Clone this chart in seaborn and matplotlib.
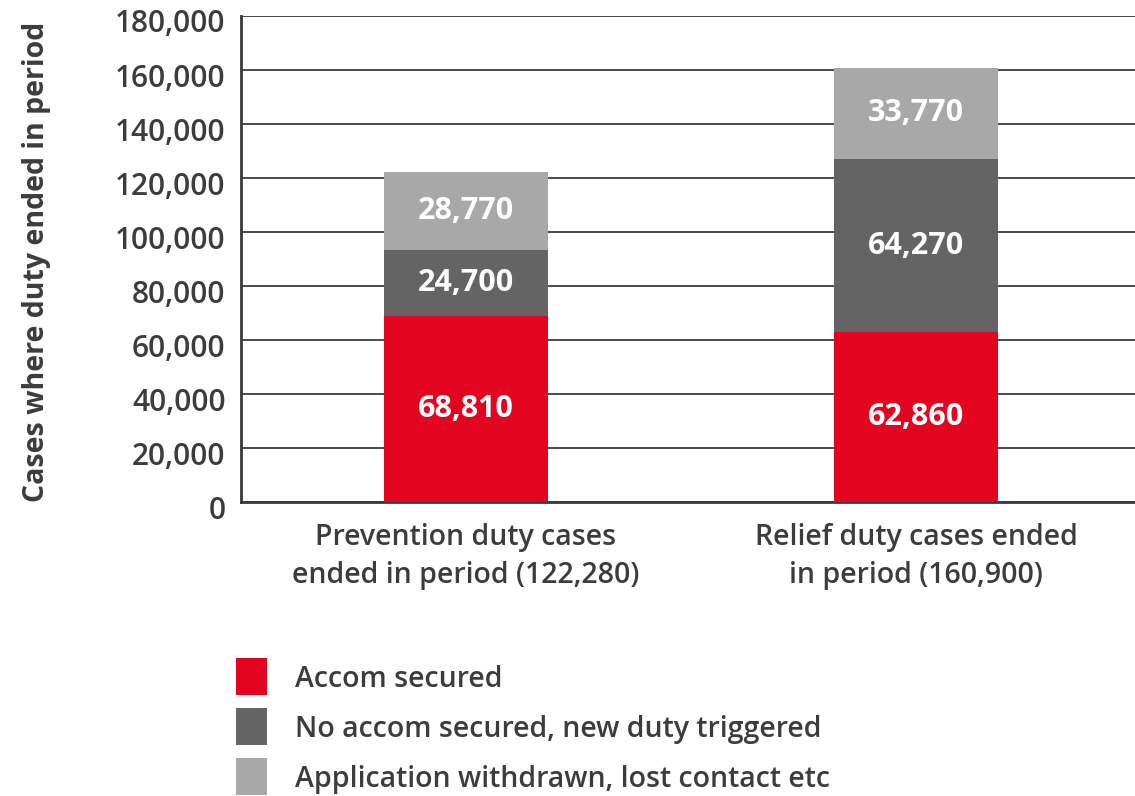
import matplotlib
matplotlib.use("Agg")
import matplotlib.pyplot as plt
import matplotlib.transforms as mtransforms
from matplotlib.patches import Rectangle
import pandas as pd
import seaborn as sns

# Case outcomes by duty type
categories = ["Prevention duty cases\nended in period (122,280)",
              "Relief duty cases ended\nin period (160,900)"]
outcomes = ["Accom secured",
            "No accom secured, new duty triggered",
            "Application withdrawn, lost contact etc"]
accom_secured = [68810, 62860]
new_duty_triggered = [24700, 64270]
withdrawn_lost_contact = [28770, 33770]
y_ticks = [0, 20000, 40000, 60000, 80000, 100000, 120000, 140000, 160000, 180000]

colors = ["#e30520", "#646464", "#a8a8a8"]
text_color = "#3c3c3c"

sns.set_theme(style="white")
plt.rcParams["font.family"] = ["Open Sans", "DejaVu Sans"]

df = pd.DataFrame({
    "category": categories * 3,
    "outcome": [outcomes[0]] * 2 + [outcomes[1]] * 2 + [outcomes[2]] * 2,
    "value": accom_secured + new_duty_triggered + withdrawn_lost_contact,
})

W, H = 1135, 796
fig = plt.figure(figsize=(W / 100, H / 100), dpi=100)
ax = fig.add_axes([0.2123, 0.3693, 0.793, 0.6106])

bottoms = [0] * len(categories)
for outcome, color in zip(outcomes, colors):
    seg = df[df["outcome"] == outcome]
    vals = seg["value"].tolist()
    sns.barplot(data=seg, x="category", y="value", order=categories,
                color=color, width=0.363, bottom=bottoms, ax=ax,
                saturation=1, linewidth=0, errorbar=None, zorder=3)
    for i, v in enumerate(vals):
        ax.text(i, bottoms[i] + v / 2, f"{v:,}", ha="center", va="center",
                color="white", fontsize=22, fontweight="bold", zorder=4)
    bottoms = [b + v for b, v in zip(bottoms, vals)]

ax.set_xlim(-0.5, 1.5)
ax.set_ylim(0, 180000)
ax.set_yticks(y_ticks)
ax.set_yticklabels([f"{t:,}" for t in y_ticks])
ax.yaxis.grid(True, color="#3a3a3a", linewidth=1.3, zorder=0)
ax.set_axisbelow(True)
ax.set_xlabel("")
ax.set_ylabel("")

for side in ["top", "right"]:
    ax.spines[side].set_visible(False)
for side in ["left", "bottom"]:
    ax.spines[side].set_color("#3a3a3a")
    ax.spines[side].set_linewidth(2)

ax.tick_params(axis="y", length=0, pad=11, labelsize=21.5, labelcolor=text_color)
ax.tick_params(axis="x", length=0, pad=15, labelsize=20.5, labelcolor=text_color)
for lbl in ax.get_yticklabels():
    lbl.set_fontweight("semibold")
    lbl.set_transform(lbl.get_transform() +
                      mtransforms.ScaledTranslation(0, -5 / 100, fig.dpi_scale_trans))
for lbl in ax.get_xticklabels():
    lbl.set_fontweight("semibold")
    lbl.set_linespacing(1.4)

# category divider tick on the baseline
ax.set_xticks([0.5], minor=True)
ax.tick_params(axis="x", which="minor", direction="in", length=8,
               width=1.5, color="#3a3a3a")

fig.text(37 / W, 1 - 262 / H, "Cases where duty ended in period",
         rotation=90, ha="center", va="center", fontsize=20.5,
         fontweight="bold", color=text_color)

# legend: colour squares with labels
for i, (label, color) in enumerate(zip(outcomes, colors)):
    top = 658 + 50 * i
    fig.patches.append(Rectangle((236 / W, 1 - (top + 37) / H), 31 / W, 37 / H,
                                 transform=fig.transFigure, facecolor=color,
                                 edgecolor="none"))
    fig.text(295 / W, 1 - (top + 29) / H, label, ha="left", va="baseline",
             fontsize=20.5, fontweight="semibold", color=text_color)

fig.savefig("out.png", dpi=100)
